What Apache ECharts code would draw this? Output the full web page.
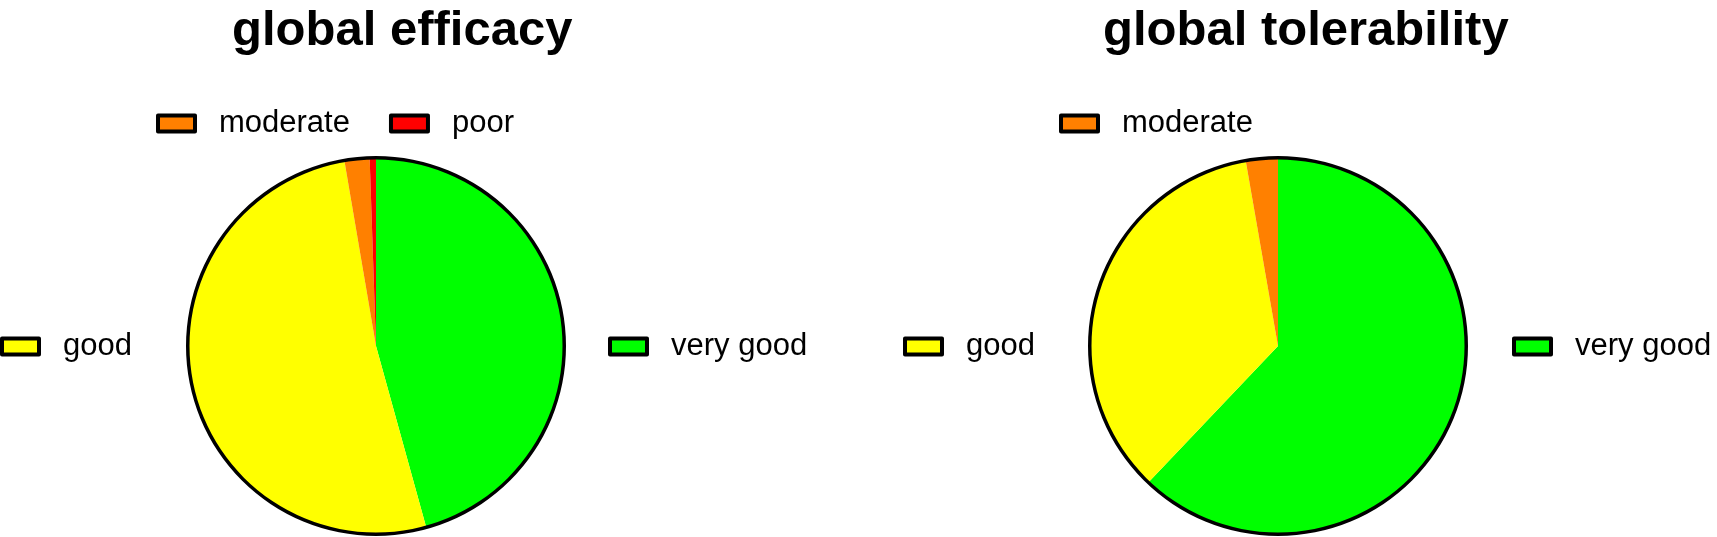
<!DOCTYPE html>
<html>

<head>
    <meta charset="utf-8">
    <script src="https://cdn.jsdelivr.net/npm/echarts@6/dist/echarts.min.js"></script>
</head>

<body style="height: 100%; margin: 0; background: #fff">
    <div id="container" style="height:537px;width: 1717px"></div>
    <script type="text/javascript">
        // ratings, clockwise from 12 o'clock
        var categories = ['very good', 'good', 'moderate', 'poor'];
        var colors = ['#00ff00', '#ffff00', '#ff8000', '#ff0000'];
        var efficacyValues = [85, 96, 4, 1];
        var tolerabilityValues = [113, 64, 5, 0];
        var titles = ['global efficacy', 'global tolerability'];

        var FONT = "'Liberation Sans', Arial, sans-serif";

        function pieData(values) {
            var out = [];
            for (var i = 0; i < categories.length; i++) {
                if (!values[i]) continue;
                out.push({ name: categories[i], value: values[i], itemStyle: { color: colors[i] } });
            }
            return out;
        }

        function pieSeries(values, cx) {
            return {
                type: 'pie',
                radius: 188,
                center: [cx, 346],
                startAngle: 90,
                clockwise: true,
                label: { show: false },
                labelLine: { show: false },
                emphasis: { disabled: true },
                itemStyle: { borderWidth: 0 },
                data: pieData(values)
            };
        }

        // black outline round each pie
        function ringSeries(cx) {
            return {
                type: 'pie',
                radius: [186.5, 190],
                center: [cx, 346],
                silent: true,
                label: { show: false },
                labelLine: { show: false },
                emphasis: { disabled: true },
                itemStyle: { color: '#000' },
                data: [{ name: '_outline', value: 1 }]
            };
        }

        function legend(names, left, top) {
            return {
                data: names,
                left: left,
                top: top,
                orient: 'horizontal',
                padding: 0,
                icon: 'rect',
                itemWidth: 37,
                itemHeight: 16,
                itemGap: 39,
                selectedMode: false,
                itemStyle: { borderColor: '#000', borderWidth: 4 },
                textStyle: {
                    fontSize: 31,
                    fontFamily: FONT,
                    color: '#000',
                    lineHeight: 30,
                    padding: [0, 0, 0, 19]
                }
            };
        }

        function title(text, left) {
            return {
                text: text,
                left: left,
                top: 7,
                padding: 0,
                textStyle: { fontSize: 49, fontWeight: 'bold', fontFamily: FONT, color: '#000' }
            };
        }

        var leftCx = 376, rightCx = 1278;

        var dom = document.getElementById("container");
        var myChart = echarts.init(dom);
        var option = {
            animation: false,
            backgroundColor: '#fff',
            title: [title(titles[0], 232), title(titles[1], 1103)],
            legend: [
                legend(['moderate', 'poor'], leftCx - 220, 108),
                legend(['good'], leftCx - 376, 331),
                legend(['very good'], leftCx + 232, 331),
                legend(['moderate'], rightCx - 219, 108),
                legend(['good'], rightCx - 375, 331),
                legend(['very good'], rightCx + 234, 331)
            ],
            series: [
                pieSeries(efficacyValues, leftCx),
                ringSeries(leftCx),
                pieSeries(tolerabilityValues, rightCx),
                ringSeries(rightCx)
            ]
        };
        myChart.setOption(option, true);
    </script>
</body>

</html>
